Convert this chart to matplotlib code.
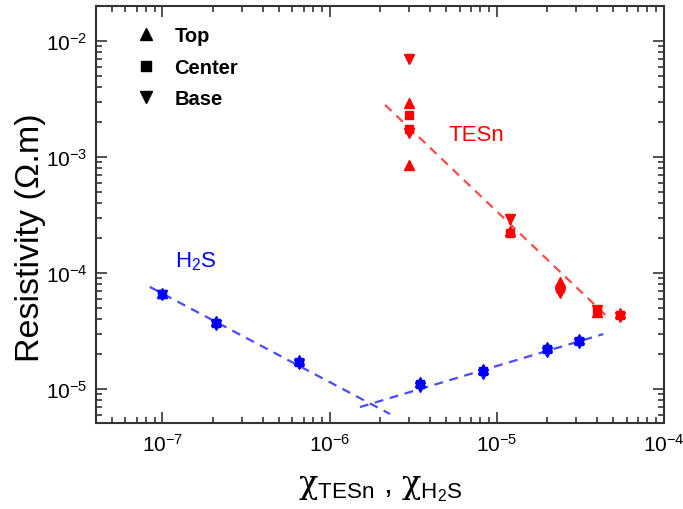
import matplotlib
matplotlib.use("Agg")
import matplotlib.pyplot as plt
from matplotlib.lines import Line2D

plt.rcParams['font.family'] = ['Liberation Sans', 'DejaVu Sans']
plt.rcParams['mathtext.fontset'] = 'custom'
plt.rcParams['mathtext.rm'] = 'Liberation Sans'
plt.rcParams['mathtext.sf'] = 'DejaVu Serif'
plt.rcParams['mathtext.default'] = 'regular'

# TESn samples (red)
tesn_top_x = [3.0e-6, 3.0e-6, 1.2e-5, 2.4e-5, 4.0e-5, 5.5e-5]
tesn_top_y = [2.9e-3, 8.6e-4, 2.3e-4, 8.3e-5, 4.6e-5, 4.5e-5]
tesn_center_x = [3.0e-6, 3.0e-6, 1.2e-5, 2.4e-5, 4.0e-5, 5.5e-5]
tesn_center_y = [2.3e-3, 1.75e-3, 2.2e-4, 7.4e-5, 4.7e-5, 4.35e-5]
tesn_base_x = [3.0e-6, 3.0e-6, 1.2e-5, 2.4e-5, 4.0e-5, 5.5e-5]
tesn_base_y = [7.0e-3, 1.6e-3, 2.9e-4, 6.7e-5, 4.8e-5, 4.2e-5]

# H2S samples (blue)
h2s_x = [1.0e-7, 2.1e-7, 6.6e-7, 3.5e-6, 8.3e-6, 2.0e-5, 3.1e-5]
h2s_top_y = [6.7e-5, 3.85e-5, 1.78e-5, 1.15e-5, 1.48e-5, 2.3e-5, 2.68e-5]
h2s_center_y = [6.6e-5, 3.7e-5, 1.7e-5, 1.1e-5, 1.42e-5, 2.2e-5, 2.58e-5]
h2s_base_y = [6.5e-5, 3.55e-5, 1.63e-5, 1.05e-5, 1.36e-5, 2.1e-5, 2.5e-5]

# dashed guide lines (end points)
tesn_fit_x = [2.15e-6, 4.6e-5]
tesn_fit_y = [2.82e-3, 4.2e-5]
h2s_fit1_x = [8.4e-8, 2.3e-6]
h2s_fit1_y = [7.6e-5, 6.1e-6]
h2s_fit2_x = [1.52e-6, 4.35e-5]
h2s_fit2_y = [7.0e-6, 2.98e-5]

fig = plt.figure(figsize=(6.83, 5.10), dpi=100)
ax = fig.add_axes([0.1406, 0.1686, 0.831, 0.8174])

ax.plot(tesn_fit_x, tesn_fit_y, '--', color='#ff4a4a', lw=1.6, dashes=(4, 3))
ax.plot(h2s_fit1_x, h2s_fit1_y, '--', color='#4a4aff', lw=1.6, dashes=(4, 3))
ax.plot(h2s_fit2_x, h2s_fit2_y, '--', color='#4a4aff', lw=1.6, dashes=(4, 3))

ms = 7.5
ax.plot(tesn_top_x, tesn_top_y, '^', color='red', ms=ms, ls='none')
ax.plot(tesn_center_x, tesn_center_y, 's', color='red', ms=ms - 1.5, ls='none')
ax.plot(tesn_base_x, tesn_base_y, 'v', color='red', ms=ms, ls='none')
ax.plot(h2s_x, h2s_top_y, '^', color='blue', ms=ms - 1, ls='none')
ax.plot(h2s_x, h2s_center_y, 's', color='blue', ms=ms - 2, ls='none')
ax.plot(h2s_x, h2s_base_y, 'v', color='blue', ms=ms - 1, ls='none')

ax.set_xscale('log')
ax.set_yscale('log')
ax.set_xlim(4e-8, 1e-4)
ax.set_ylim(5.1e-6, 2.0e-2)

ax.tick_params(which='both', direction='in', top=True, right=True,
               labelsize=15, width=1.2, color='#333333')
ax.tick_params(which='major', length=8)
ax.tick_params(axis='x', which='major', pad=7)
ax.tick_params(axis='y', which='major', pad=6)
ax.tick_params(which='minor', length=4)
for s in ax.spines.values():
    s.set_linewidth(1.5)
    s.set_color('#333333')

ax.set_ylabel('Resistivity (Ω.m)', fontsize=24.5)
ax.yaxis.set_label_coords(-0.089, 0.446)
ax.set_xlabel(r'$\mathsf{\chi}_{\mathrm{TESn}}$ , $\mathsf{\chi}_{\mathrm{H_{2}S}}$', fontsize=23)
ax.xaxis.set_label_coords(0.5, -0.12)

ax.text(7.6e-6, 1.58e-3, 'TESn', color='red', fontsize=16, ha='center', va='center')
ax.text(1.57e-7, 1.27e-4, r'H$_2$S', color='blue', fontsize=16, ha='center', va='center')

handles = [Line2D([], [], marker='^', color='black', ls='none', ms=9),
           Line2D([], [], marker='s', color='black', ls='none', ms=7),
           Line2D([], [], marker='v', color='black', ls='none', ms=9)]
ax.legend(handles, ['Top', 'Center', 'Base'], loc='upper left',
          bbox_to_anchor=(0.035, 0.995), frameon=False,
          prop={'weight': 'bold', 'size': 14.5}, handletextpad=0.8,
          labelspacing=0.62, handlelength=1.2)

fig.savefig('out.png', dpi=100)
